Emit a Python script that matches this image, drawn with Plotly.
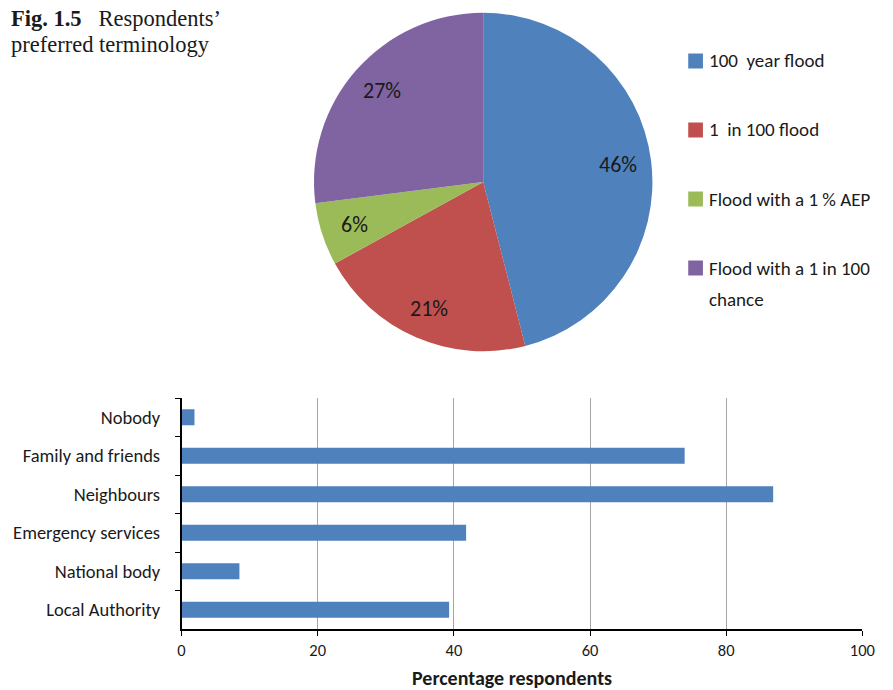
import math
import textwrap
import plotly.graph_objects as go

# Pie: preferred terminology (percent of respondents)
terms = ["100  year flood", "1  in 100 flood", "Flood with a 1 % AEP", "Flood with a 1 in 100 chance"]
term_share = [46, 21, 6, 27]
term_colors = ["#4F81BD", "#C0504D", "#9BBB59", "#8064A2"]

# Bar: who respondents would turn to
sources = ["Nobody", "Family and friends", "Neighbours", "Emergency services", "National body", "Local Authority"]
source_pct = [1.9, 73.9, 86.9, 41.8, 8.5, 39.3]
x_ticks = [0, 20, 40, 60, 80, 100]

W, H = 893, 690
SANS = "Carlito, Lato, 'Noto Sans', sans-serif"
SERIF = "'Liberation Serif', 'DejaVu Serif', serif"
INK = "#1a1a1a"


def px_x(v):
    return v / W


def px_y(v):
    return 1 - v / H


def nbsp(s):
    return s.replace("  ", "\u00a0 ")


fig = go.Figure()

# pie geometry in pixels
cx, cy, R = 488.5, 182.0, 172.5
pie_dom_x = [px_x(cx - R), px_x(cx + R)]
pie_dom_y = [px_y(cy + R), px_y(cy - R)]

fig.add_trace(go.Pie(
    labels=terms,
    values=term_share,
    sort=False,
    direction="clockwise",
    rotation=0,
    marker=dict(colors=term_colors, line=dict(width=0)),
    textinfo="none",
    hoverinfo="label+percent",
    showlegend=False,
    domain=dict(x=pie_dom_x, y=pie_dom_y),
))

# percentage labels placed on each slice's bisector
total = sum(term_share)
acc = 0
for v in term_share:
    mid = (acc + v / 2) / total * 2 * math.pi
    acc += v
    r = 0.8 * R
    lx = cx + r * math.sin(mid)
    ly = cy - r * math.cos(mid)
    fig.add_annotation(
        x=px_x(lx), y=px_y(ly), xref="paper", yref="paper",
        text=f"{round(v / total * 100)}%", showarrow=False,
        font=dict(family=SANS, size=22, color=INK),
        xanchor="center", yanchor="middle",
    )

# legend for the pie
leg_x, leg_y0, leg_step, line_h = 705, 61, 69, 32
for i, (name, col) in enumerate(zip(terms, term_colors)):
    y = leg_y0 + i * leg_step
    fig.add_shape(
        type="rect", xref="paper", yref="paper",
        x0=px_x(leg_x - 7.5), x1=px_x(leg_x + 7.5),
        y0=px_y(y + 7.5), y1=px_y(y - 7.5),
        fillcolor=col, line=dict(width=0),
    )
    for j, line in enumerate(textwrap.wrap(name, 21)):
        fig.add_annotation(
            x=px_x(leg_x + 12), y=px_y(y + j * line_h), xref="paper", yref="paper",
            text=nbsp(line), showarrow=False,
            font=dict(family=SANS, size=19, color=INK),
            xanchor="left", yanchor="middle",
        )

# horizontal bar chart
fig.add_trace(go.Bar(
    y=sources,
    x=source_pct,
    orientation="h",
    marker=dict(color="#4F81BD", line=dict(width=0)),
    width=0.42,
    showlegend=False,
    xaxis="x", yaxis="y",
))

bar_left, bar_right, bar_top, bar_bottom = 181, 875, 398, 629
fig.update_layout(
    width=W, height=H,
    margin=dict(l=0, r=0, t=0, b=0),
    paper_bgcolor="white", plot_bgcolor="white",
    font=dict(family=SANS, color=INK),
    xaxis=dict(
        domain=[px_x(bar_left), px_x(bar_right)],
        range=[0, 100],
        tickvals=x_ticks,
        ticks="outside", ticklen=5, tickcolor="black",
        showline=True, linecolor="black", linewidth=1.5,
        showgrid=True, gridcolor="#a6a6a6", gridwidth=1,
        zeroline=False,
        tickfont=dict(family=SANS, size=16.5, color=INK),
        anchor="y",
    ),
    yaxis=dict(
        domain=[px_y(bar_bottom), px_y(bar_top)],
        categoryorder="array", categoryarray=sources,
        autorange="reversed",
        tickson="boundaries",
        ticks="outside", ticklen=5, tickcolor="black",
        showline=True, linecolor="black", linewidth=1.5,
        showgrid=False, zeroline=False,
        tickfont=dict(family=SANS, size=18.5, color=INK),
        ticklabelstandoff=16,
        anchor="x",
    ),
)

# axis title
fig.add_annotation(
    x=px_x(518), y=px_y(678), xref="paper", yref="paper",
    text="<b>Percentage respondents</b>", showarrow=False,
    font=dict(family=SANS, size=20, color=INK),
    xanchor="center", yanchor="middle",
)

# figure caption, two lines
caption = ["<b>Fig. 1.5</b>\u2002 Respondents’", "preferred terminology"]
for k, line in enumerate(caption):
    fig.add_annotation(
        x=px_x(5), y=px_y(27 + 26 * k), xref="paper", yref="paper",
        text=line, showarrow=False, align="left",
        font=dict(family=SERIF, size=22.5, color=INK),
        xanchor="left", yanchor="bottom", yshift=-6,
    )

fig.write_html("out.html")
